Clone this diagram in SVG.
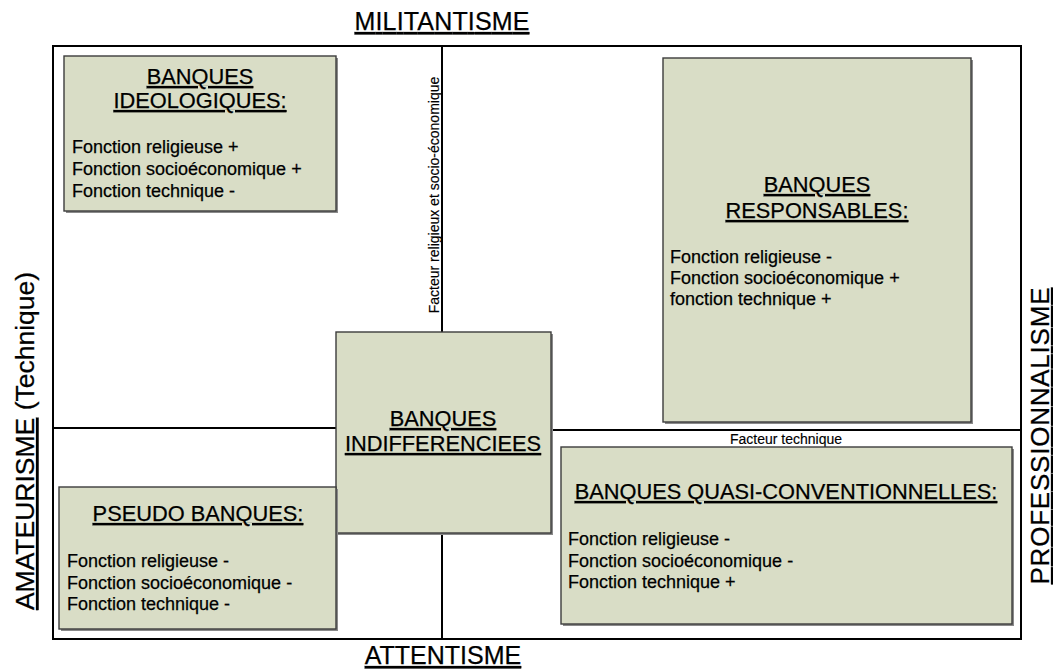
<svg xmlns="http://www.w3.org/2000/svg" width="1053" height="671" viewBox="0 0 1053 671">
<style>
text{font-family:"Liberation Sans",Arial,sans-serif;fill:#000;stroke:#000;stroke-width:0.25}
.axis{font-size:25px;text-decoration:underline}
.title{font-size:21.8px;text-decoration:underline;text-anchor:middle}
.body{font-size:18px}
.small{font-size:14px;stroke-width:0.15}
.box{fill:#D9DDC6;stroke:#3c3c3c;stroke-width:1.4}
.shadow{fill:#8a8a8a}
.ln{stroke:#000;stroke-width:2;fill:none}
</style>
<rect width="1053" height="671" fill="#fff"/>
<g id="frame">
<rect class="ln" x="53" y="46" width="968" height="593"/>
</g>
<g id="connectors">
<line class="ln" x1="442" y1="46" x2="442" y2="639"/>
<line class="ln" x1="53" y1="428" x2="336" y2="428"/>
<line class="ln" x1="551" y1="430" x2="1021" y2="430"/>
</g>
<g id="axis-labels">
<text class="axis" x="442" y="30" text-anchor="middle" textLength="175" lengthAdjust="spacing">MILITANTISME</text>
<text class="axis" x="443" y="664" text-anchor="middle">ATTENTISME</text>
<text x="0" y="0" transform="translate(34,441) rotate(-90)" style="font-size:26.5px" text-anchor="middle"><tspan text-decoration="underline">AMATEURISME</tspan> (Technique)</text>
<text class="axis" x="0" y="0" transform="translate(1049,436) rotate(-90)" text-anchor="middle" style="font-size:26px" textLength="297" lengthAdjust="spacing">PROFESSIONNALISME</text>
<text class="small" x="0" y="0" transform="translate(439,195) rotate(-90)" text-anchor="middle">Facteur religieux et socio-économique</text>
<text class="small" x="786" y="444" text-anchor="middle">Facteur technique</text>
</g>
<g id="ideologiques">
<rect class="shadow" x="66" y="58" width="272" height="155"/>
<rect class="box" x="64" y="56" width="272" height="155"/>
<text class="title" x="200" y="84">BANQUES</text>
<text class="title" x="200" y="108">IDEOLOGIQUES:</text>
<text class="body" x="72" y="153">Fonction religieuse +</text>
<text class="body" x="72" y="175">Fonction socioéconomique +</text>
<text class="body" x="72" y="197">Fonction technique -</text>
</g>
<g id="responsables">
<rect class="shadow" x="665" y="60" width="308" height="364"/>
<rect class="box" x="663" y="58" width="308" height="364"/>
<text class="title" x="817" y="192">BANQUES</text>
<text class="title" x="817" y="218">RESPONSABLES:</text>
<text class="body" x="670" y="263">Fonction religieuse -</text>
<text class="body" x="670" y="284">Fonction socioéconomique +</text>
<text class="body" x="670" y="305">fonction technique +</text>
</g>
<g id="indifferenciees">
<rect class="shadow" x="338" y="334" width="215" height="201"/>
<rect class="box" x="336" y="332" width="215" height="201"/>
<text class="title" x="443" y="426">BANQUES</text>
<text class="title" x="443" y="451">INDIFFERENCIEES</text>
</g>
<g id="pseudo">
<rect class="shadow" x="61" y="489" width="277" height="142"/>
<rect class="box" x="59" y="487" width="277" height="142"/>
<text class="title" x="198" y="521">PSEUDO BANQUES:</text>
<text class="body" x="67" y="567">Fonction religieuse -</text>
<text class="body" x="67" y="589">Fonction socioéconomique -</text>
<text class="body" x="67" y="610">Fonction technique -</text>
</g>
<g id="quasi">
<rect class="shadow" x="563" y="449" width="451" height="177"/>
<rect class="box" x="561" y="447" width="451" height="177"/>
<text class="title" x="786" y="499">BANQUES QUASI-CONVENTIONNELLES:</text>
<text class="body" x="568" y="545">Fonction religieuse -</text>
<text class="body" x="568" y="567">Fonction socioéconomique -</text>
<text class="body" x="568" y="588">Fonction technique +</text>
</g>
</svg>
